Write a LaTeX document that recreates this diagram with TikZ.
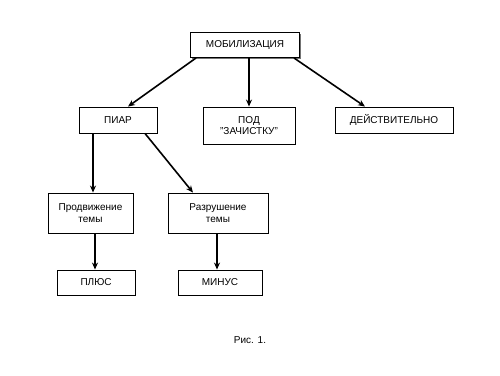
\documentclass[tikz,border=0pt]{standalone}
\usepackage{fontspec}
\setmainfont{Liberation Sans}
\usetikzlibrary{arrows.meta,shadows}
\tikzset{
  blockbox/.style={draw, line width=0.9pt, fill=white, inner sep=2pt, align=center,
    font=\fontsize{10}{11.5}\selectfont,
    drop shadow={shadow xshift=1.2pt, shadow yshift=-1.2pt, fill=black!55, opacity=1}},
  linkarrow/.style={line width=1.6pt, -{Stealth[length=7pt,width=6pt]}}
}
\begin{document}
\begin{tikzpicture}[x=1pt,y=-1pt]
\useasboundingbox (0,0) rectangle (500,375);
\node[blockbox, minimum width=109pt, minimum height=25pt] (mob) at (245,45) {МОБИЛИЗАЦИЯ};
\node[blockbox, minimum width=78pt, minimum height=26pt] (piar) at (118,120) {ПИАР};
\node[blockbox, minimum width=92pt, minimum height=37pt] (zach) at (249,125.5) {ПОД\\"ЗАЧИСТКУ"};
\node[blockbox, minimum width=118pt, minimum height=26pt] (deist) at (394,120) {ДЕЙСТВИТЕЛЬНО};
\node[blockbox, minimum width=85pt, minimum height=40pt] (prod) at (90.5,213) {Продвижение\\темы};
\node[blockbox, minimum width=100pt, minimum height=40pt] (razr) at (218,213) {Разрушение\\темы};
\node[blockbox, minimum width=78pt, minimum height=25pt] (plus) at (96,282.5) {ПЛЮС};
\node[blockbox, minimum width=84pt, minimum height=25pt] (minus) at (220,282.5) {МИНУС};
\node[font=\fontsize{10}{11.5}\selectfont] (cap) at (250,340) {Рис. 1.};
\draw[linkarrow] ([xshift=6pt]mob.south west) -- ([xshift=10pt]piar.north);
\draw[linkarrow] ([xshift=4pt]mob.south) -- (zach.north);
\draw[linkarrow] ([xshift=-6pt]mob.south east) -- ([xshift=-29pt]deist.north);
\draw[linkarrow] ([xshift=-25pt]piar.south) -- ([xshift=2.5pt]prod.north);
\draw[linkarrow] ([xshift=27pt]piar.south) -- ([xshift=-25pt]razr.north);
\draw[linkarrow] ([xshift=4.5pt]prod.south) -- ([xshift=-1pt]plus.north);
\draw[linkarrow] ([xshift=-1pt]razr.south) -- ([xshift=-3pt]minus.north);
\end{tikzpicture}
\end{document}
